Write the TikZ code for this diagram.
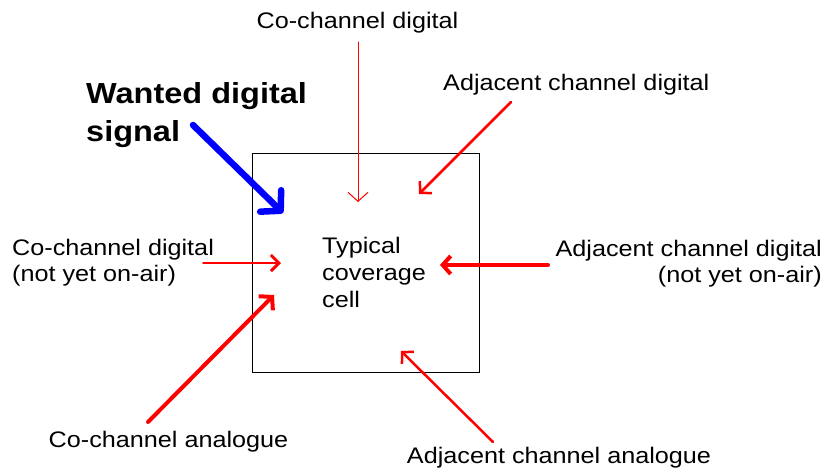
\documentclass[tikz,border=0pt]{standalone}
\usepackage{fontspec}
\setmainfont{Liberation Sans}[FakeStretch=1.12]
\usetikzlibrary{arrows.meta}
\begin{document}
\begin{tikzpicture}[x=1pt,y=-1pt,
  lbl/.style={inner sep=0pt, font=\fontsize{22.5}{27}\selectfont},
  big/.style={inner sep=0pt, font=\fontsize{29}{36}\selectfont\bfseries},
  redarrow/.style={draw=red, line cap=round},
  cellbox/.style={draw=black, line width=1.3pt, inner sep=0pt,
    minimum width=227pt, minimum height=219pt, anchor=north west}]
\useasboundingbox (0,0) rectangle (825,472);

% coverage cell
\node[cellbox] (cell) at (252,153) {};
\node[lbl, anchor=base west] (t1) at (322,253) {Typical};
\node[lbl, anchor=base west] (t2) at (322,280) {coverage};
\node[lbl, anchor=base west] (t3) at (322,307) {cell};

% labels
\node[big, anchor=base west] (w1) at (86,103) {Wanted digital};
\node[big, anchor=base west] (w2) at (86,141) {signal};
\node[lbl, anchor=base] (cd) at (357.5,28) {Co-channel digital};
\node[lbl, anchor=base west] (ad) at (443,90) {Adjacent channel digital};
\node[lbl, anchor=base west] (cn1) at (12,255) {Co-channel digital};
\node[lbl, anchor=base west] (cn2) at (12,281) {(not yet on-air)};
\node[lbl, anchor=base east] (an1) at (822,256) {Adjacent channel digital};
\node[lbl, anchor=base east] (an2) at (822,282) {(not yet on-air)};
\node[lbl, anchor=base] (ca) at (168.5,447) {Co-channel analogue};
\node[lbl, anchor=base] (aa) at (559,463) {Adjacent channel analogue};

% arrow ends
\coordinate (wS) at (193,125);   \coordinate (wT) at (283,213);
\coordinate (cdS) at (358,42);   \coordinate (cdT) at (358,202);
\coordinate (adS) at (511,102);  \coordinate (adT) at (419,194);
\coordinate (cnS) at (203,263);  \coordinate (cnT) at (281,263);
\coordinate (anS) at (548,265);  \coordinate (anT) at (440,265);
\coordinate (caS) at (148,422);  \coordinate (caT) at (274,295);
\coordinate (aaS) at (493,442);  \coordinate (aaT) at (401,351);

% arrows
\draw[draw=blue, line width=6.5pt, line cap=round,
  -{Straight Barb[length=14pt,width=30pt,round]}] (wS) -- (wT);
\draw[redarrow, line width=1pt,
  -{Straight Barb[length=9pt,width=20pt]}] (cdS) -- (cdT);
\draw[redarrow, line width=2.5pt,
  -{Straight Barb[length=8pt,width=17pt]}] (adS) -- (adT);
\draw[redarrow, line width=1.5pt,
  -{Straight Barb[length=8pt,width=16pt,line width=3pt]}] (cnS) -- (cnT);
\draw[redarrow, line width=4pt,
  -{Straight Barb[length=8pt,width=18pt]}] (anS) -- (anT);
\draw[redarrow, line width=4pt,
  -{Straight Barb[length=9pt,width=20pt]}] (caS) -- (caT);
\draw[redarrow, line width=2.5pt,
  -{Straight Barb[length=8pt,width=17pt]}] (aaS) -- (aaT);
\end{tikzpicture}
\end{document}
